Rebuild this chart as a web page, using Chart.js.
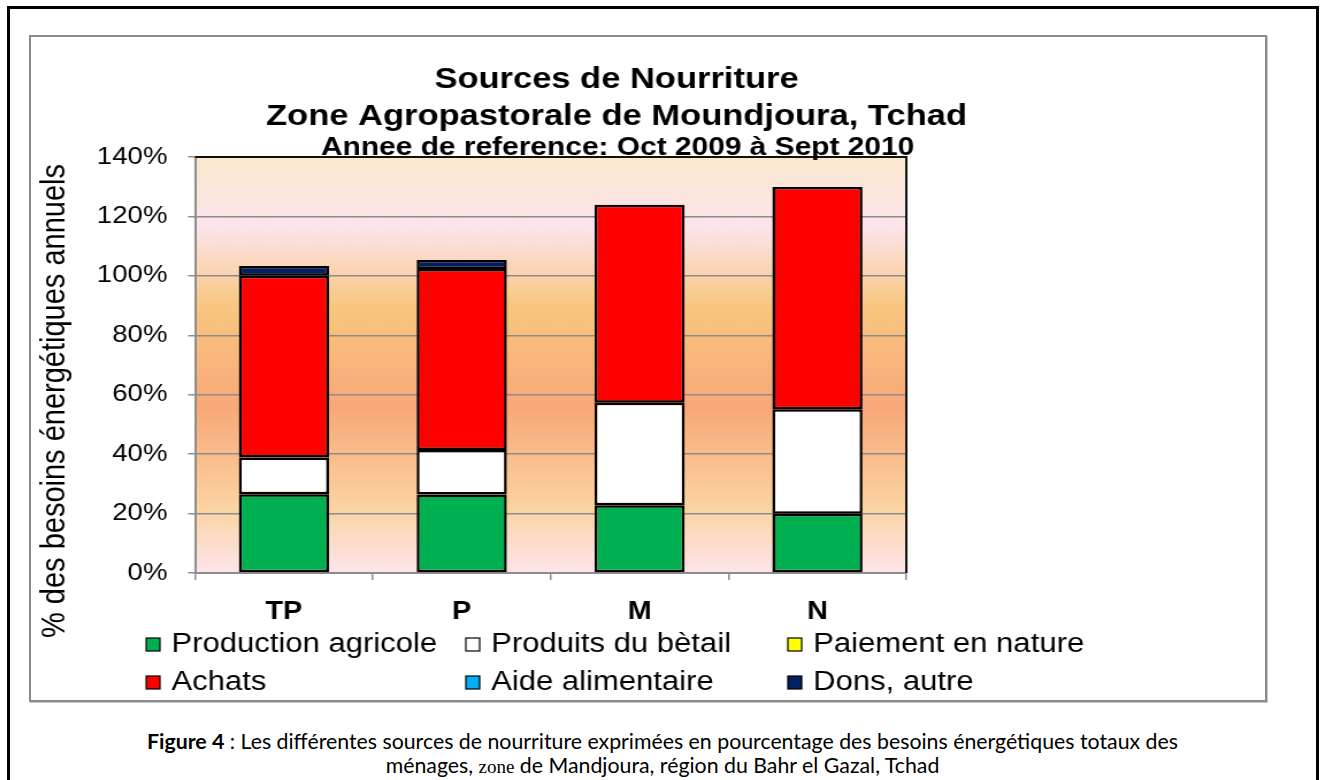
<!DOCTYPE html>
<html>
<head>
<meta charset="utf-8">
<script src="https://cdn.jsdelivr.net/npm/chart.js@4.4.1/dist/chart.umd.min.js"></script>
<style>
  html, body { margin: 0; padding: 0; background: #fff; }
  body { width: 1325px; height: 780px; position: relative; overflow: hidden; }
  #outer { position: absolute; left: 7px; top: 6px; width: 1312px; height: 800px; border: 3px solid #000; box-sizing: border-box; }
  #frame { position: absolute; left: 29px; top: 35px; width: 1238px; height: 667px; border: 2px solid #8a8a8a; box-sizing: border-box; box-shadow: 1px 1px 0 #c8c8c8; }
  #wrap { position: absolute; left: 30px; top: 36px; width: 1074px; height: 664px; transform-origin: 0 0; transform: scaleX(1.15); }
  #caption { position: absolute; left: 7px; width: 1311px; top: 729px; text-align: center; font-family: Lato, "Open Sans", sans-serif; font-size: 21.3px; line-height: 24px; color: #000; }
  #caption .t { font-family: "Liberation Serif", serif; font-size: 19px; }
</style>
</head>
<body>
<div id="outer"></div>
<div id="frame"></div>
<div id="wrap"><canvas id="sources" width="1074" height="664"></canvas></div>
<div id="caption"><b>Figure 4</b> : Les différentes sources de nourriture exprimées en pourcentage des besoins énergétiques totaux des<br>ménages, <span class="t">zone</span> de Mandjoura, région du Bahr el Gazal, Tchad</div>
<script>
// groupes socio-economiques
const categories = ['TP', 'P', 'M', 'N']

// % des besoins energetiques annuels
const production = [26.5, 26.4, 22.8, 19.9]
const betail = [12.4, 15.0, 34.5, 35.2]
const paiement = [0, 0, 0, 0]
const achats = [61.1, 60.9, 66.6, 74.8]
const aide = [0, 0, 0, 0]
const dons = [3.3, 3.0, 0, 0]

const yTicks = [0, 20, 40, 60, 80, 100, 120, 140]

const titleLines = ['Sources de Nourriture', 'Zone Agropastorale de Moundjoura, Tchad', 'Annee de reference: Oct 2009 à Sept 2010']
const yTitle = '% des besoins énergétiques annuels'

const GRAY = '#8c8c8c'
const FONT = '"Liberation Sans", Arial, sans-serif'

function serie(label, data, color) {
  return {
    label: label,
    data: data,
    backgroundColor: color,
    borderColor: '#000',
    // pas de trait pour les segments vides
    borderWidth: (c) => c.raw ? 2.5 : 0,
    borderSkipped: false,
  }
}

const dataSources = {
  labels: categories,
  datasets: [
    serie('Production agricole', production, '#00b050'),
    serie('Produits du bètail', betail, '#ffffff'),
    serie('Paiement en nature', paiement, '#ffff00'),
    serie('Achats', achats, '#ff0000'),
    serie('Aide alimentaire', aide, '#00b0f0'),
    serie('Dons, autre', dons, '#002060'),
  ]
}

// fond degrade de la zone de trace + cadre haut/droite
const plotBackground = {
  id: 'plotBackground',
  beforeDraw(chart) {
    const { ctx, chartArea: a } = chart
    const g = ctx.createLinearGradient(0, a.top, 0, a.bottom)
    g.addColorStop(0, '#fbe9ce')
    g.addColorStop(0.17, '#fce4ec')
    g.addColorStop(0.36, '#f9c680')
    g.addColorStop(0.6, '#f8a878')
    g.addColorStop(0.84, '#fbd3a0')
    g.addColorStop(1, '#fde5ec')
    ctx.save()
    ctx.fillStyle = g
    ctx.fillRect(a.left, a.top, a.right - a.left, a.bottom - a.top)
    ctx.restore()
  },
  beforeDatasetsDraw(chart) {
    const { ctx, chartArea: a } = chart
    ctx.save()
    ctx.strokeStyle = '#111'
    ctx.lineWidth = 2
    ctx.beginPath()
    ctx.moveTo(a.left, a.top)
    ctx.lineTo(a.right, a.top)
    ctx.lineTo(a.right, a.bottom)
    ctx.stroke()
    ctx.restore()
  }
}

// titre, titre de l'axe y et legende a la maniere d'Excel
const excelTexts = {
  id: 'excelTexts',
  afterDraw(chart) {
    const ctx = chart.ctx
    ctx.save()
    ctx.fillStyle = '#000'
    ctx.textAlign = 'center'
    ctx.textBaseline = 'middle'
    ctx.font = 'bold 30px ' + FONT
    ctx.fillText(titleLines[0], 510, 44)
    ctx.fillText(titleLines[1], 510, 81)
    ctx.font = 'bold 26px ' + FONT
    ctx.fillText(titleLines[2], 511, 112)

    ctx.save()
    ctx.translate(22, 365)
    ctx.rotate(-Math.PI / 2)
    ctx.font = '29px ' + FONT
    ctx.fillText(yTitle, 0, 0)
    ctx.restore()

    const colX = [101, 379, 659]
    const rowY = [609, 647]
    ctx.font = '27px ' + FONT
    ctx.textAlign = 'left'
    chart.data.datasets.forEach((ds, i) => {
      const x = colX[i % 3]
      const y = rowY[Math.floor(i / 3)]
      ctx.fillStyle = ds.backgroundColor
      ctx.fillRect(x, y - 7, 12, 13)
      ctx.strokeStyle = '#000'
      ctx.lineWidth = 1.2
      ctx.strokeRect(x, y - 7, 12, 13)
      ctx.fillStyle = '#000'
      ctx.fillText(ds.label, x + 22, y)
    })
    ctx.restore()
  }
}

const configSources = {
  type: 'bar',
  data: dataSources,
  options: {
    responsive: false,
    animation: false,
    events: [],
    categoryPercentage: 0.507,
    barPercentage: 1,
    layout: { padding: { left: 0, top: 121, right: 312, bottom: 77 } },
    plugins: {
      legend: { display: false },
      title: { display: false },
      tooltip: { enabled: false },
    },
    scales: {
      x: {
        stacked: true,
        afterFit: (scale) => { scale.height = 50 },
        grid: { display: true, drawOnChartArea: false, drawTicks: true, tickLength: 7, color: GRAY, lineWidth: 1.5, offset: true },
        border: { color: GRAY, width: 2 },
        ticks: { color: '#000', padding: 17, font: { family: FONT, size: 25, weight: 'bold' } },
      },
      y: {
        stacked: true,
        min: 0,
        max: 140,
        afterFit: (scale) => { scale.width = 143.5 },
        afterBuildTicks: (scale) => { scale.ticks = yTicks.map(v => ({ value: v })) },
        grid: { color: GRAY, lineWidth: 1.5, tickLength: 6 },
        border: { color: GRAY, width: 2 },
        ticks: { color: '#000', padding: 18, font: { family: FONT, size: 24 }, callback: (v) => v + '%' },
      }
    }
  },
  plugins: [plotBackground, excelTexts]
}

const chartSources = new Chart(document.getElementById('sources'), configSources)
</script>
</body>
</html>
